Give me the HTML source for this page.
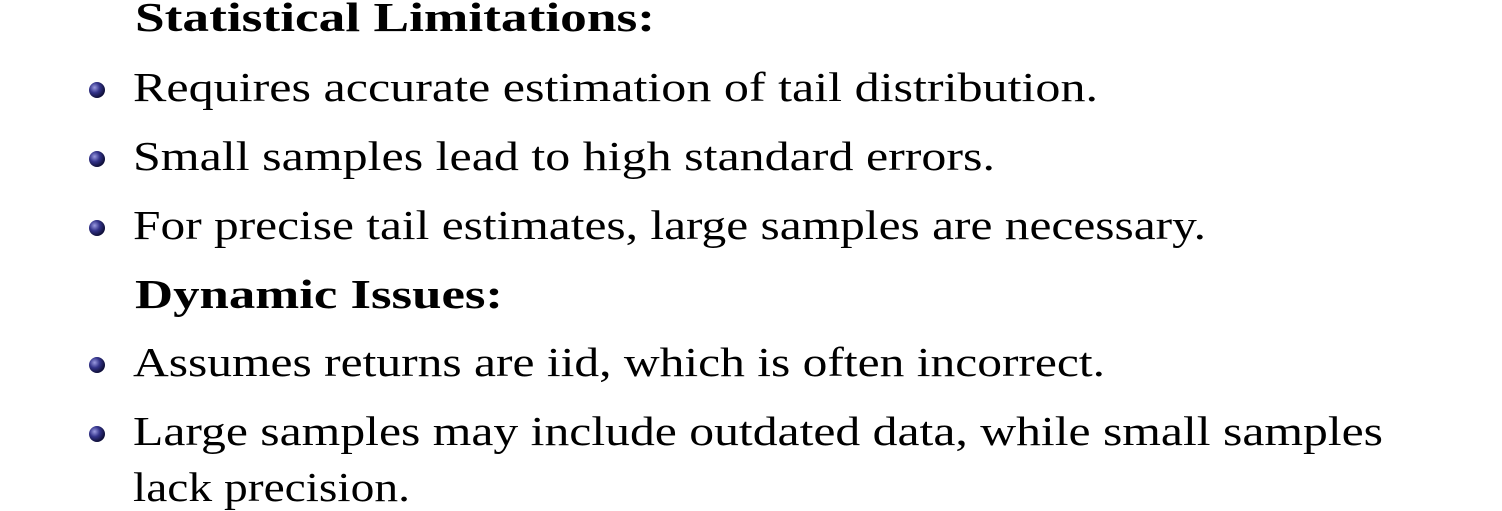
<!DOCTYPE html>
<html>
<head>
<meta charset="utf-8">
<style>
  html,body{margin:0;padding:0;background:#fff;}
  svg{display:block;}
  text{font-family:"Liberation Serif",serif;font-size:41px;fill:#000;}
  .b{font-weight:bold;}
</style>
</head>
<body>
<svg width="1502" height="511" viewBox="0 0 1502 511">
  <defs>
    <radialGradient id="ball" cx="35%" cy="35%" r="65%">
      <stop offset="0%" stop-color="#9a9ae0"/>
      <stop offset="50%" stop-color="#33338a"/>
      <stop offset="100%" stop-color="#10103a"/>
    </radialGradient>
  </defs>
  <text class="b" x="135" y="31" textLength="520" lengthAdjust="spacingAndGlyphs">Statistical Limitations:</text>

  <circle cx="97" cy="90" r="8" fill="url(#ball)"/>
  <text x="133" y="101" textLength="965" lengthAdjust="spacingAndGlyphs">Requires accurate estimation of tail distribution.</text>

  <circle cx="97" cy="159" r="8" fill="url(#ball)"/>
  <text x="133" y="170" textLength="862" lengthAdjust="spacingAndGlyphs">Small samples lead to high standard errors.</text>

  <circle cx="97" cy="228" r="8" fill="url(#ball)"/>
  <text x="133" y="239" textLength="1073" lengthAdjust="spacingAndGlyphs">For precise tail estimates, large samples are necessary.</text>

  <text class="b" x="135" y="308" textLength="368" lengthAdjust="spacingAndGlyphs">Dynamic Issues:</text>

  <circle cx="97" cy="365" r="8" fill="url(#ball)"/>
  <text x="133" y="376" textLength="972" lengthAdjust="spacingAndGlyphs">Assumes returns are iid, which is often incorrect.</text>

  <circle cx="97" cy="434" r="8" fill="url(#ball)"/>
  <text x="133" y="445" textLength="1250" lengthAdjust="spacingAndGlyphs">Large samples may include outdated data, while small samples</text>
  <text x="133" y="501" textLength="277" lengthAdjust="spacingAndGlyphs">lack precision.</text>
</svg>
</body>
</html>
